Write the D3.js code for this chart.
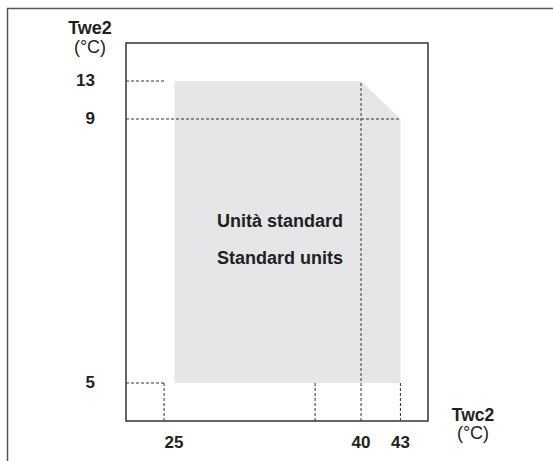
<!DOCTYPE html>
<html lang="en">
<head>
  <meta charset="UTF-8" />
  <title>Operating limits</title>
  <script src="https://d3js.org/d3.v7.min.js"></script>
  <style>
    body {
      margin: 0;
      background: #fff;
      font-family: "Liberation Sans", Arial, sans-serif;
    }
    svg { display: block; }
    text { fill: #231f20; }
  </style>
</head>
<body>
  <svg id="chart" width="553" height="461"></svg>
  <script>
    // condenser water outlet temperature (Twc2) and evaporator outlet (Twe2), schematic axes
    const xTicks = [25, 40, 43];
    const yTicks = [5, 9, 13];

    // envelope of the standard units
    const envelope = [
      { twc: 25.8, twe: 5 },
      { twc: 25.8, twe: 13 },
      { twc: 40, twe: 13 },
      { twc: 43, twe: 9 },
      { twc: 43, twe: 5 }
    ];

    // dotted reference lines, each drawn from the axis up to "to"
    const hLines = [
      { twe: 13, to: 25 },
      { twe: 9, to: 43 },
      { twe: 5, to: 25 }
    ];
    const vLines = [
      { twc: 25, to: 5 },
      { twc: 36.5, to: 5 },
      { twc: 40, to: 13 },
      { twc: 43, to: 5 }
    ];

    const labels = ["Unità standard", "Standard units"];

    const svg = d3.select("#chart");
    const box = { left: 126, top: 43, right: 428, bottom: 421 };

    // x is to scale, y is drawn schematically (broken between 5 and 9)
    const x = d3.scaleLinear().domain([22.1, 45.1]).range([box.left, box.right]);
    const y = d3.scaleLinear()
      .domain([2, 5, 9, 13, 17])
      .range([box.bottom, box.bottom - 38, box.top + 76, box.top + 38, box.top]);

    // outer frame (runs off the picture)
    svg.append("rect")
      .attr("x", 7.5).attr("y", 8.5)
      .attr("width", 600).attr("height", 500)
      .attr("fill", "none")
      .attr("stroke", "#555")
      .attr("stroke-width", 1.5);

    svg.append("path")
      .datum(envelope)
      .attr("fill", "#e5e6e8")
      .attr("d", d3.line().x(d => x(d.twc)).y(d => y(d.twe)).curve(d3.curveLinearClosed));

    const dash = svg.append("g")
      .attr("stroke", "#333")
      .attr("stroke-width", 1)
      .attr("stroke-dasharray", "3,2");

    dash.selectAll(".h")
      .data(hLines)
      .join("line")
      .attr("x1", x(22.1)).attr("x2", d => x(d.to))
      .attr("y1", d => y(d.twe)).attr("y2", d => y(d.twe));

    dash.selectAll(".v")
      .data(vLines)
      .join("line")
      .attr("x1", d => x(d.twc)).attr("x2", d => x(d.twc))
      .attr("y1", y(2)).attr("y2", d => y(d.to));

    // plot box
    svg.append("rect")
      .attr("x", box.left).attr("y", box.top)
      .attr("width", box.right - box.left).attr("height", box.bottom - box.top)
      .attr("fill", "none")
      .attr("stroke", "#333")
      .attr("stroke-width", 1.5);

    svg.selectAll(".ytick")
      .data(yTicks)
      .join("text")
      .attr("x", 95)
      .attr("y", d => y(d) + 5)
      .attr("text-anchor", "end")
      .attr("font-size", 17)
      .attr("font-weight", "bold")
      .text(d => d);

    svg.selectAll(".xtick")
      .data(xTicks)
      .join("text")
      .attr("x", d => x(d) + (d === 25 ? 10 : 0))
      .attr("y", 448)
      .attr("text-anchor", "middle")
      .attr("font-size", 17)
      .attr("font-weight", "bold")
      .text(d => d);

    svg.append("text").attr("x", 90).attr("y", 34)
      .attr("text-anchor", "middle").attr("font-size", 18).attr("font-weight", "bold")
      .text("Twe2");
    svg.append("text").attr("x", 90).attr("y", 53)
      .attr("text-anchor", "middle").attr("font-size", 18)
      .text("(°C)");

    svg.append("text").attr("x", 473).attr("y", 421)
      .attr("text-anchor", "middle").attr("font-size", 17.5).attr("font-weight", "bold")
      .text("Twc2");
    svg.append("text").attr("x", 473).attr("y", 439)
      .attr("text-anchor", "middle").attr("font-size", 18)
      .text("(°C)");

    svg.selectAll(".lab")
      .data(labels)
      .join("text")
      .attr("x", 280)
      .attr("y", (d, i) => 227 + i * 37)
      .attr("text-anchor", "middle")
      .attr("font-size", 18)
      .attr("font-weight", "bold")
      .text(d => d);
  </script>
</body>
</html>
